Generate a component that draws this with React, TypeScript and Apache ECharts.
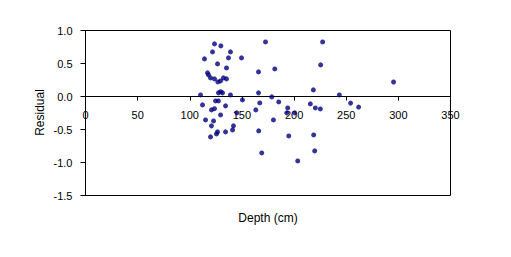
import React, { useEffect, useRef } from "react";
import * as echarts from "echarts";

const depthCm: number[] = [
  123.7, 129.8, 121.8, 139.0, 114.1, 137.1, 149.6, 126.6, 135.2, 165.9,
  117.0, 118.0, 119.9, 123.7, 126.9, 129.5, 132.3, 135.2, 127.5, 129.5,
  131.4, 110.3, 139.0, 165.9, 150.5, 124.7, 127.5, 112.2, 134.3, 167.1,
  163.3, 120.8, 123.7, 129.5, 145.1, 115.1, 122.8, 120.8, 141.9, 141.0,
  126.6, 125.6, 134.3, 166.1, 119.9, 169.0, 172.6, 227.4, 225.5, 181.5,
  218.5, 243.4, 178.6, 185.3, 215.6, 220.4, 225.2, 193.9, 193.0, 200.6,
  180.2, 194.9, 218.8, 219.8, 203.5, 254.2, 261.9, 295.4,
];
const residual: number[] = [
  0.797, 0.767, 0.676, 0.676, 0.57, 0.585, 0.585, 0.494, 0.433, 0.373,
  0.358, 0.327, 0.282, 0.267, 0.221, 0.236, 0.282, 0.267, 0.055, 0.073,
  0.055, 0.024, 0.024, 0.055, -0.052, -0.067, -0.067, -0.127, -0.142, -0.097,
  -0.203, -0.203, -0.185, -0.279, -0.248, -0.355, -0.37, -0.445, -0.445, -0.506,
  -0.536, -0.567, -0.536, -0.521, -0.612, -0.855, 0.827, 0.827, 0.479, 0.418,
  0.1, 0.024, -0.006, -0.082, -0.112, -0.173, -0.188, -0.173, -0.248, -0.248,
  -0.355, -0.597, -0.582, -0.824, -0.976, -0.1, -0.16, 0.22,
];
const xTicks = { min: 0, max: 350, interval: 50 };
const yTicks = { min: -1.5, max: 1.0, interval: 0.5 };
const xTitle = "Depth (cm)";
const yTitle = "Residual";

export default function App() {
  const ref = useRef<HTMLDivElement>(null);
  useEffect(() => {
    if (!ref.current) return;
    const chart = echarts.init(ref.current, null, { renderer: "svg" });
    const font = "Arial, 'Liberation Sans', sans-serif";
    const W = 511;
    const H = 257;
    const gl = 85.5;
    const gr = 60.5;
    const gt = 30.5;
    const gb = 61.5;
    const left = gl;
    const right = W - gr;
    const top = gt;
    const bottom = H - gb;
    const zeroPx = top + ((yTicks.max - 0) / (yTicks.max - yTicks.min)) * (bottom - top);
    chart.setOption({
      animation: false,
      backgroundColor: "#fff",
      grid: { left: gl, right: gr, top: gt, bottom: gb, show: false },
      xAxis: {
        type: "value",
        min: xTicks.min,
        max: xTicks.max,
        interval: xTicks.interval,
        position: "bottom",
        offset: -(bottom - zeroPx),
        axisLine: { show: true, onZero: false, lineStyle: { color: "#000", width: 1 } },
        axisTick: { show: true, inside: false, length: 4, lineStyle: { color: "#000" } },
        axisLabel: { color: "#000", fontSize: 11, fontFamily: font, margin: 13 },
        splitLine: { show: false },
      },
      yAxis: {
        type: "value",
        min: yTicks.min,
        max: yTicks.max,
        interval: yTicks.interval,
        position: "left",
        axisLine: { show: true, onZero: false, lineStyle: { color: "#000", width: 1 } },
        axisTick: { show: true, inside: false, length: 5, lineStyle: { color: "#000" } },
        axisLabel: {
          color: "#000",
          fontSize: 11,
          fontFamily: font,
          margin: 13,
          formatter: (v: number) => v.toFixed(1),
        },
        splitLine: { show: false },
      },
      graphic: [
        {
          type: "polyline",
          silent: true,
          z: 10,
          shape: {
            points: [
              [left, top],
              [right, top],
              [right, bottom],
              [left, bottom],
              [left, top],
            ],
          },
          style: { stroke: "#000", lineWidth: 1, fill: null },
        },
        {
          type: "text",
          x: 268,
          y: 218,
          style: {
            text: xTitle,
            fontSize: 12,
            fontFamily: font,
            fill: "#000",
            align: "center",
            verticalAlign: "middle",
          },
        },
        {
          type: "text",
          x: 40,
          y: 112.5,
          rotation: Math.PI / 2,
          style: {
            text: yTitle,
            fontSize: 12,
            fontFamily: font,
            fill: "#000",
            align: "center",
            verticalAlign: "middle",
          },
        },
      ],
      series: [
        {
          type: "scatter",
          data: depthCm.map((d, i) => [d, residual[i]]),
          symbol: "circle",
          symbolSize: 5,
          itemStyle: { color: "#000080" },
        },
      ],
    });
    return () => chart.dispose();
  }, []);
  return <div ref={ref} style={{ width: 511, height: 257, margin: -8 }} />;
}
